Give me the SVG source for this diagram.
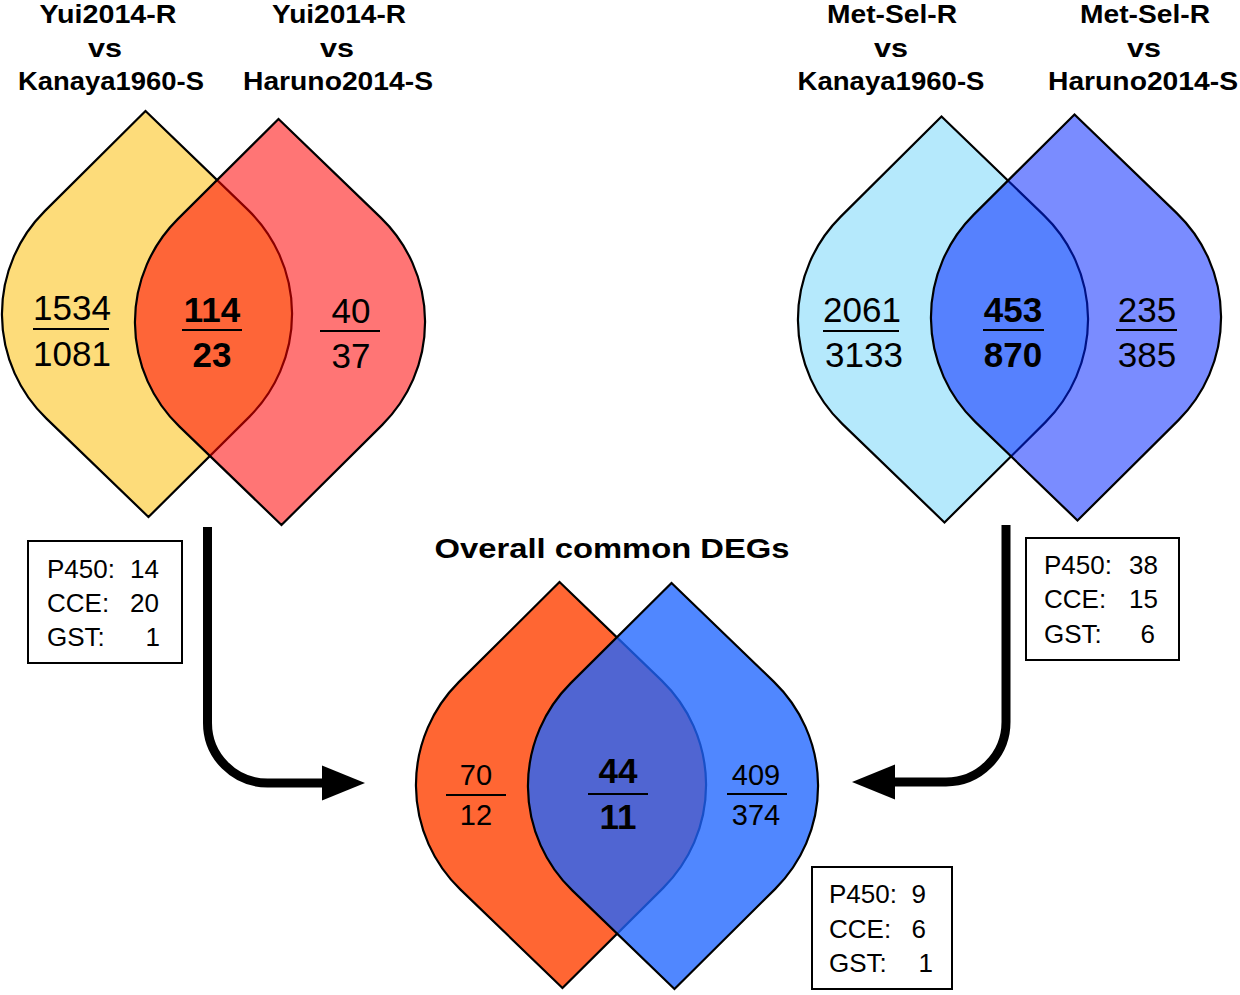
<svg xmlns="http://www.w3.org/2000/svg" width="1240" height="995" viewBox="0 0 1240 995">
<style>
.sh{stroke:#000;stroke-width:2.2;stroke-linejoin:miter}
.hd{font-family:"Liberation Sans",Arial,sans-serif;font-weight:bold;font-size:25px;text-anchor:middle;fill:#000}
.n{font-family:"Liberation Sans",Arial,sans-serif;font-size:35px;text-anchor:middle;fill:#000}
.ns{font-family:"Liberation Sans",Arial,sans-serif;font-size:29px;text-anchor:middle;fill:#000}
.b{font-weight:bold}
.fl{stroke:#000;stroke-width:2.2}
.bx{fill:#fff;stroke:#000;stroke-width:2}
.bt{font-family:"Liberation Sans",Arial,sans-serif;font-size:26px;fill:#000}
.e{text-anchor:end}
.conn{fill:none;stroke:#000;stroke-width:9}
</style>
<defs>
<path id="drop" d="M0,-203 L-101.5,-103.6 A145,145 0 0 0 -101.5,103.6 L0,203 L101.5,103.6 A145,145 0 0 0 101.5,-103.6 Z"/>
<marker id="ah" markerUnits="userSpaceOnUse" markerWidth="46" markerHeight="38" refX="2" refY="18" orient="auto" viewBox="0 0 46 38">
<path d="M0,0.5 L43,18 L0,35.5 Z" fill="#000"/>
</marker>
</defs>
<rect width="1240" height="995" fill="#fff"/>

<g id="headings">
<text class="hd" x="108" y="23" textLength="137" lengthAdjust="spacingAndGlyphs">Yui2014-R</text>
<text class="hd" x="105" y="57" textLength="34" lengthAdjust="spacingAndGlyphs">vs</text>
<text class="hd" x="111" y="90" textLength="186" lengthAdjust="spacingAndGlyphs">Kanaya1960-S</text>
<text class="hd" x="339" y="23" textLength="134" lengthAdjust="spacingAndGlyphs">Yui2014-R</text>
<text class="hd" x="337" y="57" textLength="34" lengthAdjust="spacingAndGlyphs">vs</text>
<text class="hd" x="338" y="90" textLength="190" lengthAdjust="spacingAndGlyphs">Haruno2014-S</text>
<text class="hd" x="892" y="23" textLength="130" lengthAdjust="spacingAndGlyphs">Met-Sel-R</text>
<text class="hd" x="891" y="57" textLength="34" lengthAdjust="spacingAndGlyphs">vs</text>
<text class="hd" x="891" y="90" textLength="187" lengthAdjust="spacingAndGlyphs">Kanaya1960-S</text>
<text class="hd" x="1145" y="23" textLength="130" lengthAdjust="spacingAndGlyphs">Met-Sel-R</text>
<text class="hd" x="1144" y="57" textLength="34" lengthAdjust="spacingAndGlyphs">vs</text>
<text class="hd" x="1143" y="90" textLength="190" lengthAdjust="spacingAndGlyphs">Haruno2014-S</text>
<text class="hd" x="612" y="558" font-size="28" textLength="355" lengthAdjust="spacingAndGlyphs" style="font-size:28px">Overall common DEGs</text>
</g>

<g id="venn-yui">
<use href="#drop" class="sh" fill="#FDDC7A" transform="translate(147,314) rotate(-0.42)"/>
<use href="#drop" class="sh" fill="#FF0000" fill-opacity="0.54" transform="translate(280,322) rotate(-0.42)"/>
</g>
<g id="venn-met">
<use href="#drop" class="sh" fill="#B5E9FC" transform="translate(943,319.5) rotate(-0.42)"/>
<use href="#drop" class="sh" fill="#0023FF" fill-opacity="0.52" transform="translate(1076,317.5) rotate(-0.42)"/>
</g>
<g id="venn-overall">
<use href="#drop" class="sh" fill="#FF6633" transform="translate(561,785) rotate(-0.42)"/>
<use href="#drop" class="sh" fill="#1F65FF" fill-opacity="0.78" transform="translate(673,786) rotate(-0.42)"/>
</g>

<g id="labels-yui">
<text class="n" x="72" y="320">1534</text>
<line class="fl" x1="33" y1="329" x2="109" y2="329"/>
<text class="n" x="72" y="366">1081</text>
<text class="n b" x="212" y="322">114</text>
<line class="fl" x1="182" y1="330" x2="242" y2="330"/>
<text class="n b" x="212" y="367">23</text>
<text class="n" x="351" y="323">40</text>
<line class="fl" x1="320" y1="331" x2="380" y2="331"/>
<text class="n" x="351" y="368">37</text>
</g>
<g id="labels-met">
<text class="n" x="862" y="322">2061</text>
<line class="fl" x1="823" y1="331" x2="899" y2="331"/>
<text class="n" x="864" y="367">3133</text>
<text class="n b" x="1013" y="322">453</text>
<line class="fl" x1="983" y1="330" x2="1044" y2="330"/>
<text class="n b" x="1013" y="367">870</text>
<text class="n" x="1147" y="322">235</text>
<line class="fl" x1="1116" y1="330" x2="1177" y2="330"/>
<text class="n" x="1147" y="367">385</text>
</g>
<g id="labels-overall">
<text class="ns" x="476" y="785">70</text>
<line class="fl" x1="446" y1="795" x2="506" y2="795"/>
<text class="ns" x="476" y="825">12</text>
<text class="n b" x="618" y="783">44</text>
<line class="fl" x1="588" y1="794" x2="648" y2="794"/>
<text class="n b" x="618" y="829">11</text>
<text class="ns" x="756" y="785">409</text>
<line class="fl" x1="727" y1="794" x2="787" y2="794"/>
<text class="ns" x="756" y="825">374</text>
</g>

<g id="box-yui">
<rect class="bx" x="28" y="541" width="154" height="122"/>
<text class="bt" x="47" y="578">P450:</text><text class="bt e" x="159" y="578">14</text>
<text class="bt" x="47" y="612">CCE:</text><text class="bt e" x="159" y="612">20</text>
<text class="bt" x="47" y="646">GST:</text><text class="bt e" x="160" y="646">1</text>
</g>
<g id="box-met">
<rect class="bx" x="1026" y="538" width="153" height="122"/>
<text class="bt" x="1044" y="574">P450:</text><text class="bt e" x="1158" y="574">38</text>
<text class="bt" x="1044" y="608">CCE:</text><text class="bt e" x="1158" y="608">15</text>
<text class="bt" x="1044" y="643">GST:</text><text class="bt e" x="1155" y="643">6</text>
</g>
<g id="box-overall">
<rect class="bx" x="812" y="867" width="140" height="122"/>
<text class="bt" x="829" y="903">P450:</text><text class="bt e" x="926" y="903">9</text>
<text class="bt" x="829" y="938">CCE:</text><text class="bt e" x="926" y="938">6</text>
<text class="bt" x="829" y="972">GST:</text><text class="bt e" x="933" y="972">1</text>
</g>

<g id="connectors">
<path class="conn" d="M207.5,527 V723 A60,60 0 0 0 267.5,783 H324" marker-end="url(#ah)"/>
<path class="conn" d="M1006,525 V722 A60,60 0 0 1 946,782 H893" marker-end="url(#ah)"/>
</g>
</svg>
